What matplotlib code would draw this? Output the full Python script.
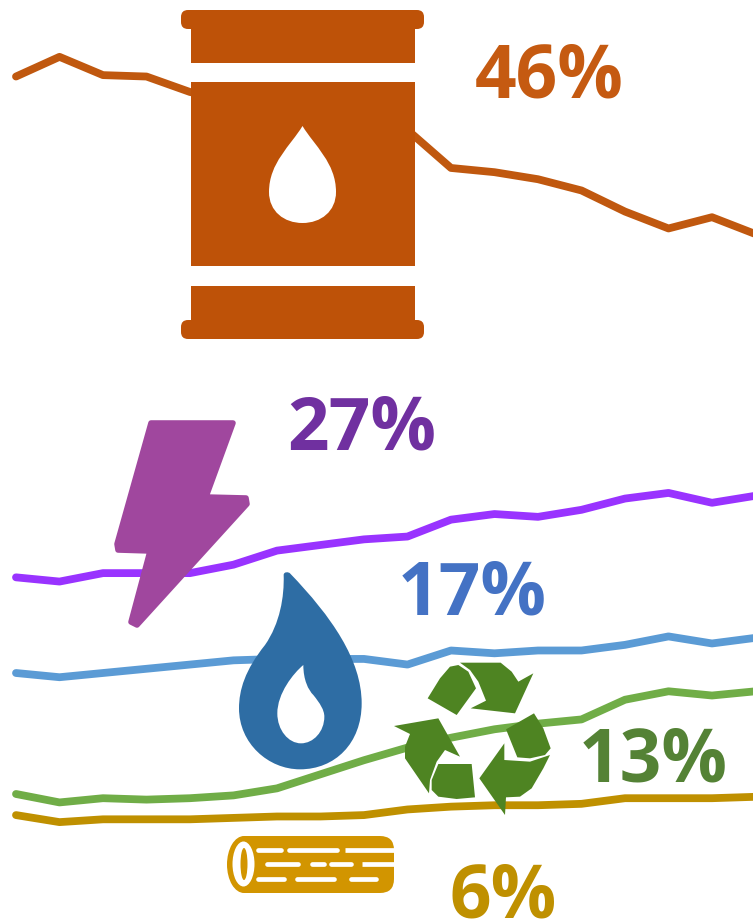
import matplotlib
matplotlib.use("Agg")
import matplotlib.pyplot as plt
from matplotlib.patches import Polygon, PathPatch, Rectangle, FancyBboxPatch, Ellipse
from matplotlib.path import Path

# share of energy (18 evenly spaced years)
oil = [57.2, 58.6, 57.3, 57.2, 56.1, 55.5, 55.2, 54.8, 54.5, 53.4, 50.7, 50.4, 49.9, 49.1, 47.6, 46.4, 47.2, 46.0]
electricity = [21.6, 21.3, 21.9, 21.9, 21.9, 22.5, 23.5, 23.9, 24.3, 24.5, 25.7, 26.1, 25.9, 26.4, 27.2, 27.6, 26.9, 27.4]
gas = [14.8, 14.5, 14.8, 15.1, 15.4, 15.7, 15.8, 15.8, 15.8, 15.4, 16.4, 16.2, 16.4, 16.4, 16.8, 17.4, 16.9, 17.3]
renewables = [6.2, 5.6, 5.9, 5.8, 5.9, 6.1, 6.6, 7.6, 8.6, 9.5, 10.2, 10.8, 11.2, 11.5, 12.9, 13.5, 13.2, 13.5]
wood = [4.7, 4.2, 4.4, 4.4, 4.4, 4.5, 4.6, 4.6, 4.7, 5.1, 5.3, 5.4, 5.4, 5.5, 5.9, 5.9, 5.9, 6.0]
labels = ["46%", "27%", "17%", "13%", "6%"]

W, H = 753, 922
fig = plt.figure(figsize=(W / 100, H / 100), dpi=100)

# data axes
ax = fig.add_axes([0, 0, 1, 1])
ax.set_xlim(-16 / 43.5, (W - 16) / 43.5)
ax.set_ylim(-2.9, 62.64)
ax.axis("off")
for vals, col in [(oil, "#C0580F"), (electricity, "#9933FF"), (gas, "#5B9BD5"),
                  (renewables, "#70AD47"), (wood, "#BF9000")]:
    ax.plot(range(len(vals)), vals, color=col, lw=5.6, solid_joinstyle="round", solid_capstyle="round")

# overlay in pixels for icons and labels
ov = fig.add_axes([0, 0, 1, 1])
ov.set_xlim(0, W)
ov.set_ylim(H, 0)
ov.axis("off")
ov.patch.set_alpha(0)


def poly(pts, col, lw=0):
    ov.add_patch(Polygon(pts, closed=True, fc=col, ec=col, lw=lw, joinstyle="round"))


def zoomed(pts, x0, y0):
    return [(x0 + a / 3, y0 + b / 3) for a, b in pts]


def curve(pts, col, lw=0):
    # first point, then bezier triples; coordinates as read in a 3x crop
    codes = [Path.MOVETO] + [Path.CURVE4] * (len(pts) - 1) + [Path.CLOSEPOLY]
    ov.add_patch(PathPatch(Path(pts + [pts[0]], codes), fc=col, ec=col, lw=lw, joinstyle="round"))


def drop(cx, top, bottom, half, col):
    # teardrop, widest low down
    h = bottom - top
    curve([(cx, top),
           (cx + half * 0.35, top + h * 0.2), (cx + half, top + h * 0.38), (cx + half, top + h * 0.68),
           (cx + half, top + h * 0.88), (cx + half * 0.55, bottom), (cx, bottom),
           (cx - half * 0.55, bottom), (cx - half, top + h * 0.88), (cx - half, top + h * 0.68),
           (cx - half, top + h * 0.38), (cx - half * 0.35, top + h * 0.2), (cx, top)], col)


# barrel
brown = "#BE5208"
for x, y, w, h in [(191, 29, 224, 34), (191, 82, 224, 184), (191, 286, 224, 34)]:
    ov.add_patch(Rectangle((x, y), w, h, fc=brown, ec="none"))
for y in (10, 320):
    ov.add_patch(FancyBboxPatch((188, y + 7), 229, 5, boxstyle="round,pad=7,rounding_size=7", fc=brown, ec="none"))
drop(302.5, 126, 223, 33.5, "white")

# lightning bolt
poly([(151, 423), (233, 423), (206, 497), (246, 498), (247, 504), (137, 625), (131, 622),
      (150, 551), (118, 550), (117, 544)], "#A0479E", lw=4)

# gas flame
flame_blue = "#2E6DA4"
curve(zoomed([(176, 45), (178, 110), (165, 190), (120, 255),
              (60, 330), (42, 390), (42, 445),
              (42, 550), (130, 628), (225, 628),
              (330, 628), (410, 550), (410, 430),
              (410, 300), (320, 170), (195, 40),
              (190, 35), (176, 35), (176, 45)], 225, 560), flame_blue)
curve(zoomed([(235, 315), (235, 360), (250, 390), (265, 405),
              (285, 430), (298, 450), (298, 470),
              (298, 515), (265, 550), (228, 550),
              (190, 550), (157, 510), (157, 460),
              (157, 400), (205, 340), (235, 315)], 225, 560), "white")

# recycling arrows
green = "#4E8422"
for pts in [
    [(143, 175), (180, 115), (210, 80), (235, 75), (265, 95), (288, 145), (230, 225)],
    [(240, 68), (362, 68), (395, 95), (415, 125), (460, 100), (405, 220), (272, 205), (318, 182), (295, 125), (270, 90)],
    [(42, 258), (175, 235), (240, 350), (195, 330), (170, 365), (150, 420), (147, 460), (75, 355), (75, 320), (90, 282)],
    [(175, 372), (275, 372), (285, 472), (230, 477), (175, 470), (155, 450), (155, 420)],
    [(378, 268), (462, 220), (490, 265), (512, 325), (495, 345), (450, 355), (412, 352)],
    [(373, 310), (373, 360), (450, 365), (510, 345), (490, 385), (455, 445), (420, 470), (378, 472), (375, 525), (298, 415)],
]:
    poly(zoomed(pts, 380, 640), green)

# log
gold = "#D29500"
ov.add_patch(FancyBboxPatch((300, 836), 94, 57, boxstyle="round,pad=0,rounding_size=14", fc=gold, ec="none"))
ov.add_patch(Rectangle((244, 836), 80, 57, fc=gold, ec="none"))
ov.add_patch(Ellipse((244, 864.5), 34, 57, fc=gold, ec="none"))
ov.add_patch(Ellipse((243.5, 864), 22, 45, fc="white", ec="none"))
ov.add_patch(Ellipse((244, 864), 7, 32, fc=gold, ec="none"))
for y, segs in [(850, [(258, 281), (289, 337), (345, 394)]),
                (864.3, [(267, 298), (312, 324), (331, 351), (362, 394)]),
                (878.7, [(258, 284), (297, 334), (351, 376)])]:
    for a, b in segs:
        cap = "butt" if b == 394 else "round"
        ov.plot([a, b], [y, y], color="white", lw=3.4, solid_capstyle=cap)

# value labels
for txt, x, y, col in zip(labels, [475, 287, 398, 579, 450], [98, 449, 614, 781, 917],
                          ["#C55A11", "#7030A0", "#4472C4", "#548235", "#BF9000"]):
    ov.text(x, y, txt, color=col, fontsize=52.5, fontweight="bold", family="Open Sans", ha="left", va="baseline")

fig.savefig("out.png", dpi=100)
